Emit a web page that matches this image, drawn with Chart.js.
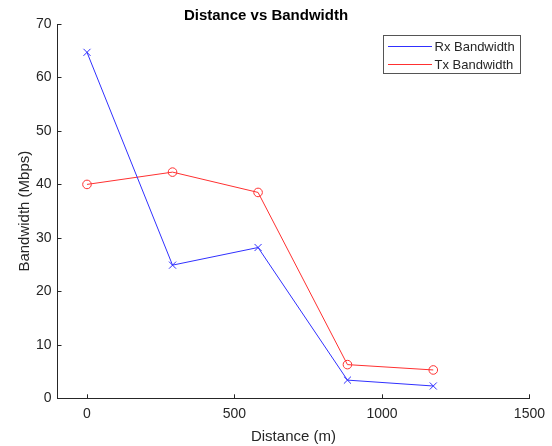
<!DOCTYPE html>
<html lang="en">
<head>
   <meta charset="UTF-8">
   <title>Distance vs Bandwidth</title>
   <script src="https://cdn.jsdelivr.net/npm/chart.js@4/dist/chart.umd.min.js"></script>
   <style>
       html, body { margin: 0; padding: 0; background: white; }
       #wrap { width: 552px; height: 446px; }
   </style>
</head>
<body>
   <div id="wrap"><canvas id="chart"></canvas></div>

   <script>
       const distances = [0, 290, 580, 883, 1174];
       const rxBandwidth = [64.7, 24.9, 28.2, 3.4, 2.3];
       const txBandwidth = [40.0, 42.3, 38.5, 6.3, 5.3];
       const xTicks = [0, 500, 1000, 1500];
       const yTicks = [0, 10, 20, 30, 40, 50, 60, 70];

       const ink = '#262626';
       const rxColor = '#3030ff';
       const txColor = '#ff3030';
       const fontFamily = '"Liberation Sans", Arial, Helvetica, sans-serif';

       // MATLAB style: ticks point inwards, box off
       const inwardTicks = {
           id: 'inwardTicks',
           afterDatasetsDraw(chart) {
               const ctx = chart.ctx;
               const x = chart.scales.x, y = chart.scales.y;
               ctx.save();
               ctx.strokeStyle = ink;
               ctx.lineWidth = 1;
               ctx.beginPath();
               xTicks.forEach(v => {
                   const px = Math.round(x.getPixelForValue(v)) + 0.5;
                   ctx.moveTo(px, y.bottom);
                   ctx.lineTo(px, y.bottom - 4);
               });
               yTicks.forEach(v => {
                   const py = Math.round(y.getPixelForValue(v)) + 0.5;
                   ctx.moveTo(x.left, py);
                   ctx.lineTo(x.left + 4, py);
               });
               ctx.stroke();
               ctx.restore();
           }
       };

       // legend box in the top right corner, lines only
       const boxLegend = {
           id: 'boxLegend',
           afterDraw(chart) {
               const ctx = chart.ctx;
               const left = 383.5, top = 35.5, w = 137, h = 38;
               const colors = [rxColor, txColor];
               ctx.save();
               ctx.fillStyle = 'white';
               ctx.fillRect(left, top, w, h);
               ctx.strokeStyle = '#555';
               ctx.lineWidth = 1;
               ctx.strokeRect(left, top, w, h);
               ctx.font = '13px ' + fontFamily;
               ctx.textBaseline = 'middle';
               ctx.textAlign = 'left';
               chart.data.datasets.forEach((ds, i) => {
                   const rowY = Math.round(top + 10 + i * 18);
                   ctx.fillStyle = colors[i];
                   ctx.fillRect(Math.round(left) + 4, rowY, 44, 1);
                   ctx.fillStyle = ink;
                   ctx.fillText(ds.label, left + 51, rowY + 1);
               });
               ctx.restore();
           }
       };

       new Chart(document.getElementById('chart'), {
           type: 'line',
           data: {
               datasets: [{
                   label: 'Rx Bandwidth',
                   data: distances.map((d, i) => ({ x: d, y: rxBandwidth[i] })),
                   borderColor: rxColor,
                   borderWidth: 1,
                   pointStyle: 'cross',
                   rotation: 45,
                   pointRadius: 5,
                   pointBorderColor: rxColor,
                   pointBorderWidth: 1,
                   fill: false,
                   tension: 0
               }, {
                   label: 'Tx Bandwidth',
                   data: distances.map((d, i) => ({ x: d, y: txBandwidth[i] })),
                   borderColor: txColor,
                   borderWidth: 1,
                   pointStyle: 'circle',
                   pointRadius: 4.3,
                   pointBorderColor: txColor,
                   pointBackgroundColor: 'rgba(0,0,0,0)',
                   pointBorderWidth: 1,
                   fill: false,
                   tension: 0
               }]
           },
           options: {
               responsive: true,
               maintainAspectRatio: false,
               animation: false,
               layout: { padding: { left: 0, right: 20, top: 0, bottom: 0 } },
               plugins: {
                   legend: { display: false },
                   tooltip: { enabled: false },
                   title: {
                       display: true,
                       text: 'Distance vs Bandwidth',
                       color: 'black',
                       font: { family: fontFamily, size: 15, weight: 'bold' },
                       padding: { top: 7, bottom: -1 }
                   }
               },
               scales: {
                   x: {
                       type: 'linear',
                       min: -100,
                       max: 1500,
                       afterBuildTicks: s => { s.ticks = xTicks.map(v => ({ value: v })); },
                       afterFit: s => { s.height = 47.7; },
                       grid: { display: true, drawOnChartArea: false, drawTicks: false },
                       border: { display: true, color: ink, width: 1 },
                       ticks: {
                           color: ink,
                           padding: 7,
                           maxRotation: 0,
                           font: { family: fontFamily, size: 14 },
                           callback: v => String(v)
                       },
                       title: {
                           display: true,
                           text: 'Distance (m)',
                           color: ink,
                           font: { family: fontFamily, size: 15 },
                           padding: { top: 0, bottom: 0 }
                       }
                   },
                   y: {
                       type: 'linear',
                       min: 0,
                       max: 70,
                       afterBuildTicks: s => { s.ticks = yTicks.map(v => ({ value: v })); },
                       afterFit: s => { s.width = 57.5; },
                       grid: { display: true, drawOnChartArea: false, drawTicks: false },
                       border: { display: true, color: ink, width: 1 },
                       ticks: {
                           color: ink,
                           padding: 6,
                           font: { family: fontFamily, size: 14 },
                           callback: v => String(v)
                       },
                       title: {
                           display: true,
                           text: 'Bandwidth (Mbps)',
                           color: ink,
                           font: { family: fontFamily, size: 15 },
                           padding: { top: 16, bottom: 0 }
                       }
                   }
               }
           },
           plugins: [inwardTicks, boxLegend]
       });
   </script>
</body>
</html>
